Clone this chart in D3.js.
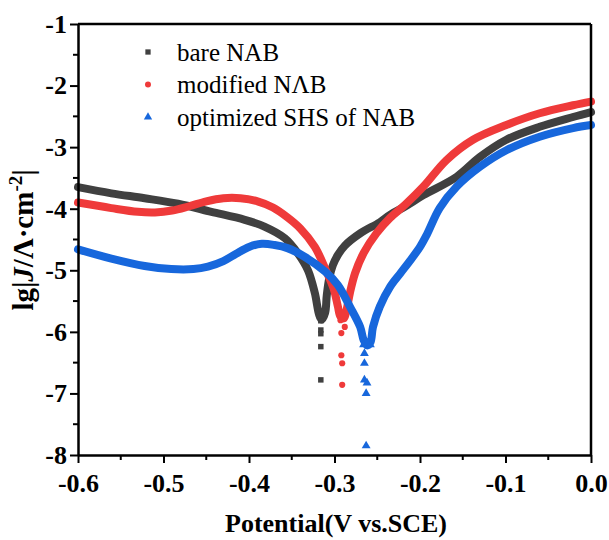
<!DOCTYPE html>
<html><head><meta charset="utf-8">
<script src="https://cdn.jsdelivr.net/npm/d3@7"></script>
<style>body{margin:0;background:#fff}svg{display:block}</style>
</head><body>
<script>
const seriesNames = ["bare NAB", "modified NΛB", "optimized SHS of NAB"];
const seriesColors = ["#404040", "#ef3a3a", "#1767dc"];
const seriesShapes = ["square", "circle", "triangle"];
const xTicks = [-0.6, -0.5, -0.4, -0.3, -0.2, -0.1, 0.0];
const xTickLabels = ["-0.6", "-0.5", "-0.4", "-0.3", "-0.2", "-0.1", "0.0"];
const yTicks = [-1, -2, -3, -4, -5, -6, -7, -8];
const yTickLabels = ["-1", "-2", "-3", "-4", "-5", "-6", "-7", "-8"];

// main curves: [potential V, lg|J|]
const bareMain = [[-0.6,-3.65],[-0.561,-3.75],[-0.522,-3.83],[-0.483,-3.92],[-0.444,-4.05],[-0.405,-4.18],[-0.382,-4.29],[-0.358,-4.48],[-0.343,-4.72],[-0.331,-5.0],[-0.323,-5.37],[-0.318,-5.72],[-0.315,-5.80],[-0.311,-5.69],[-0.309,-5.40],[-0.306,-5.12],[-0.302,-4.92],[-0.296,-4.75],[-0.288,-4.60],[-0.270,-4.40],[-0.247,-4.22],[-0.235,-4.10],[-0.217,-3.96],[-0.196,-3.78],[-0.157,-3.48],[-0.130,-3.16],[-0.099,-2.88],[-0.060,-2.67],[-0.021,-2.51],[0,-2.43]];
const modMain = [[-0.6,-3.90],[-0.561,-3.99],[-0.530,-4.05],[-0.510,-4.06],[-0.490,-4.03],[-0.470,-3.96],[-0.450,-3.88],[-0.430,-3.83],[-0.410,-3.83],[-0.390,-3.88],[-0.372,-3.98],[-0.355,-4.14],[-0.340,-4.32],[-0.323,-4.62],[-0.310,-5.00],[-0.301,-5.30],[-0.296,-5.59],[-0.293,-5.75],[-0.289,-5.78],[-0.286,-5.65],[-0.282,-5.37],[-0.276,-5.05],[-0.266,-4.72],[-0.251,-4.40],[-0.235,-4.15],[-0.217,-3.93],[-0.196,-3.64],[-0.169,-3.21],[-0.138,-2.88],[-0.099,-2.64],[-0.060,-2.45],[-0.021,-2.32],[0,-2.26]];
const shsMain = [[-0.6,-4.66],[-0.561,-4.81],[-0.522,-4.93],[-0.491,-4.98],[-0.465,-4.98],[-0.448,-4.94],[-0.430,-4.85],[-0.415,-4.73],[-0.400,-4.62],[-0.385,-4.57],[-0.370,-4.59],[-0.355,-4.64],[-0.335,-4.78],[-0.311,-5.02],[-0.296,-5.24],[-0.282,-5.59],[-0.270,-5.92],[-0.266,-6.13],[-0.262,-6.22],[-0.258,-6.17],[-0.255,-5.92],[-0.247,-5.59],[-0.235,-5.27],[-0.223,-5.05],[-0.212,-4.85],[-0.200,-4.62],[-0.192,-4.42],[-0.177,-3.99],[-0.157,-3.64],[-0.130,-3.32],[-0.099,-3.05],[-0.060,-2.83],[-0.021,-2.69],[0,-2.64]];
// scattered points near corrosion potential
const bareDip = [[-0.316,-5.82],[-0.316,-5.97],[-0.316,-6.03],[-0.316,-6.24],[-0.316,-6.78]];
const modDip = [[-0.293,-5.81],[-0.288,-5.92],[-0.292,-6.02],[-0.292,-6.38],[-0.291,-6.51],[-0.291,-6.86]];
const shsDip = [[-0.266,-6.21],[-0.258,-6.21],[-0.265,-6.35],[-0.265,-6.51],[-0.265,-6.78],[-0.262,-6.83],[-0.263,-7.0],[-0.263,-7.85]];

const mains = [bareMain, modMain, shsMain];
const dips = [bareDip, modDip, shsDip];

const W = 609, H = 540;
const m = {left: 78, right: 18, top: 24, bottom: 85};
const FONT = "'Liberation Serif','Times New Roman',serif";

const svg = d3.select("body").append("svg").attr("width", W).attr("height", H);
const x = d3.scaleLinear().domain([-0.6, 0]).range([m.left, W - m.right]);
const y = d3.scaleLinear().domain([-8, -1]).range([H - m.bottom, m.top]);

const symType = {square: d3.symbolSquare, circle: d3.symbolCircle, triangle: d3.symbolTriangle};

// curves
const line = d3.line().x(d => x(d[0])).y(d => y(d[1])).curve(d3.curveCatmullRom.alpha(0.5));
mains.forEach((s, i) => {
  svg.append("path").datum(s).attr("d", line)
    .attr("fill", "none").attr("stroke", seriesColors[i])
    .attr("stroke-width", 8).attr("stroke-linejoin", "round").attr("stroke-linecap", "round");
});
dips.forEach((s, i) => {
  svg.append("g").selectAll("path").data(s).join("path")
    .attr("transform", d => `translate(${x(d[0])},${y(d[1])})`)
    .attr("d", d3.symbol().type(symType[seriesShapes[i]]).size(seriesShapes[i] === "triangle" ? 34 : 30))
    .attr("fill", seriesColors[i]);
});

// axes
const gx = svg.append("g").attr("transform", `translate(0,${H - m.bottom})`)
  .call(d3.axisBottom(x).tickValues(xTicks).tickFormat((d, i) => xTickLabels[i]).tickSize(8).tickSizeOuter(0));
const gy = svg.append("g").attr("transform", `translate(${m.left},0)`)
  .call(d3.axisLeft(y).tickValues(yTicks).tickFormat((d, i) => yTickLabels[i]).tickSize(8).tickSizeOuter(0));
[gx, gy].forEach(g => {
  g.select(".domain").attr("stroke", "#000").attr("stroke-width", 2.5);
  g.selectAll(".tick line").attr("stroke", "#000").attr("stroke-width", 2);
  g.selectAll(".tick text").attr("font-family", FONT).attr("font-weight", "bold")
    .attr("font-size", 26).attr("fill", "#000");
});
gx.selectAll(".tick text").attr("dy", null).attr("y", 37);
gy.selectAll(".tick text").attr("x", -11).attr("dy", "0.32em");

// minor ticks
const xMinor = d3.range(-0.55, 0, 0.1);
svg.append("g").selectAll("line").data(xMinor).join("line")
  .attr("x1", d => x(d)).attr("x2", d => x(d))
  .attr("y1", H - m.bottom).attr("y2", H - m.bottom + 5)
  .attr("stroke", "#000").attr("stroke-width", 2);
const yMinor = d3.range(-7.5, -1, 1);
svg.append("g").selectAll("line").data(yMinor).join("line")
  .attr("x1", m.left - 5).attr("x2", m.left)
  .attr("y1", d => y(d)).attr("y2", d => y(d))
  .attr("stroke", "#000").attr("stroke-width", 2);

// frame top/right
svg.append("line").attr("x1", m.left).attr("x2", W - m.right).attr("y1", m.top).attr("y2", m.top)
  .attr("stroke", "#000").attr("stroke-width", 2.5);
svg.append("line").attr("x1", W - m.right).attr("x2", W - m.right).attr("y1", m.top).attr("y2", H - m.bottom)
  .attr("stroke", "#000").attr("stroke-width", 2.5);

// axis titles
svg.append("text").attr("x", 336).attr("y", 532).attr("text-anchor", "middle")
  .attr("font-family", FONT).attr("font-weight", "bold").attr("font-size", 26)
  .text("Potential(V vs.SCE)");
const yl = svg.append("text").attr("transform", "translate(33,240) rotate(-90)")
  .attr("text-anchor", "middle").attr("font-family", FONT).attr("font-weight", "bold").attr("font-size", 29);
yl.append("tspan").text("lg|");
yl.append("tspan").attr("font-style", "italic").text("J");
yl.append("tspan").text("/Λ·cm");
yl.append("tspan").attr("dy", -11).attr("font-size", 19).text("-2");
yl.append("tspan").attr("dy", 11).text("|");

// legend
const leg = svg.append("g");
seriesNames.forEach((n, i) => {
  const yy = 52 + i * 32.5;
  leg.append("path").attr("transform", `translate(148,${yy})`)
    .attr("d", d3.symbol().type(symType[seriesShapes[i]]).size(seriesShapes[i] === "triangle" ? 30 : 28))
    .attr("fill", seriesColors[i]);
  leg.append("text").attr("x", 177).attr("y", yy + 8.5)
    .attr("font-family", FONT).attr("font-size", 25).attr("fill", "#000").text(n);
});
</script>
</body></html>
